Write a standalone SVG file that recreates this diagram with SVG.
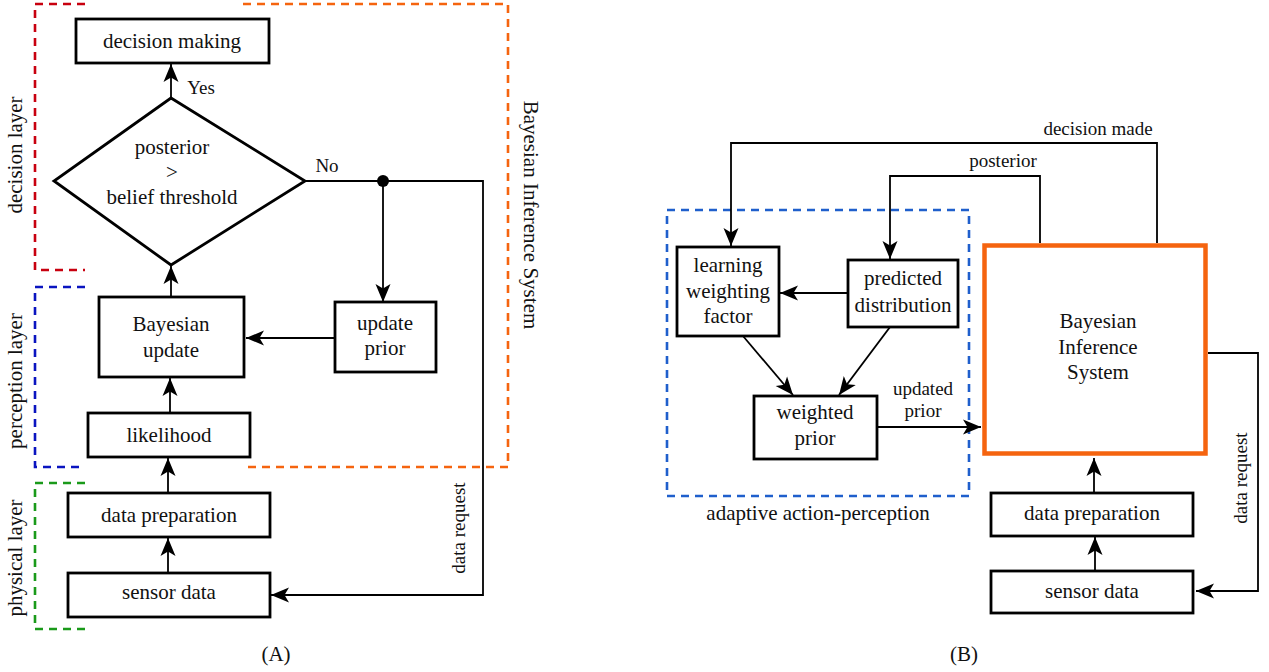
<svg xmlns="http://www.w3.org/2000/svg" width="1269" height="672" viewBox="0 0 1269 672">
<style>
text{font-family:"Liberation Serif","Times New Roman",serif;fill:#111;text-anchor:middle}
.t{font-size:21px}
.s{font-size:19px}
.box{fill:#fff;stroke:#000;stroke-width:2.8}
.lna{fill:none;stroke:#000;stroke-width:1.8;marker-end:url(#ah)}
.dash{fill:none;stroke-width:2.6;stroke-dasharray:8 6}
</style>
<defs>
<marker id="ah" markerUnits="userSpaceOnUse" markerWidth="20" markerHeight="18" viewBox="0 0 20 18" refX="18" refY="9" orient="auto">
<path d="M0,1.5 L18,9 L0,16.5 L4.5,9 Z" fill="#000"/>
</marker>
</defs>
<rect width="1269" height="672" fill="#fff"/>

<!-- Panel A layer brackets -->
<g id="decision-layer">
<path class="dash" stroke="#c8000f" d="M85,4 H35 V270 H85"/>
<text class="t" transform="translate(22,155) rotate(-90)">decision layer</text>
</g>
<g id="perception-layer">
<path class="dash" stroke="#0a14c0" d="M85,287 H35 V467 H85"/>
<text class="t" transform="translate(22,381) rotate(-90)">perception layer</text>
</g>
<g id="physical-layer">
<path class="dash" stroke="#1a9a1a" d="M85,483 H35 V629 H85"/>
<text class="t" transform="translate(22,558) rotate(-90)">physical layer</text>
</g>
<g id="bayesian-inference-system-group">
<path class="dash" stroke="#f5640f" d="M243,4 H508 V467 H243"/>
<text class="t" transform="translate(524,215) rotate(90)">Bayesian Inference System</text>
</g>

<!-- Panel A connectors -->
<g id="connectors-a">
<line class="lna" x1="171" y1="98" x2="171" y2="64"/>
<line class="lna" x1="171" y1="297" x2="171" y2="266"/>
<line class="lna" x1="170" y1="413" x2="170" y2="378"/>
<line class="lna" x1="168" y1="493" x2="168" y2="458"/>
<line class="lna" x1="168" y1="573" x2="168" y2="538"/>
<polyline class="lna" points="305,181 483,181 483,595 271,595"/>
<line class="lna" x1="383" y1="181" x2="383" y2="302"/>
<line class="lna" x1="335" y1="338" x2="246" y2="338"/>
<circle cx="383" cy="181" r="6" fill="#000"/>
<text class="s" x="201" y="94">Yes</text>
<text class="s" x="327" y="172">No</text>
<text class="s" transform="translate(465,528) rotate(-90)">data request</text>
</g>

<!-- Panel A nodes -->
<g id="a-decision-making">
<rect class="box" x="76" y="19" width="193" height="44"/>
<text class="t" x="172" y="48">decision making</text>
</g>
<g id="a-threshold">
<polygon class="box" points="171,98 305,181 171,265 54,181"/>
<text class="t" x="172" y="154">posterior</text>
<text class="t" x="172" y="179">&gt;</text>
<text class="t" x="172" y="204">belief threshold</text>
</g>
<g id="a-bayesian-update">
<rect class="box" x="99" y="297" width="145" height="80"/>
<text class="t" x="171" y="331">Bayesian</text>
<text class="t" x="171" y="357">update</text>
</g>
<g id="a-update-prior">
<rect class="box" x="335" y="302" width="101" height="70"/>
<text class="t" x="385" y="330">update</text>
<text class="t" x="385" y="355">prior</text>
</g>
<g id="a-likelihood">
<rect class="box" x="88" y="413" width="162" height="44"/>
<text class="t" x="169" y="442">likelihood</text>
</g>
<g id="a-data-preparation">
<rect class="box" x="68" y="493" width="202" height="44"/>
<text class="t" x="169" y="522">data preparation</text>
</g>
<g id="a-sensor-data">
<rect class="box" x="68" y="573" width="202" height="44"/>
<text class="t" x="169" y="599">sensor data</text>
</g>
<text class="t" x="276" y="661">(A)</text>

<!-- Panel B -->
<g id="adaptive-action-perception">
<rect class="dash" stroke="#1f5fcc" x="667" y="210" width="302" height="286"/>
<text class="t" x="818" y="520">adaptive action-perception</text>
</g>

<g id="connectors-b">
<line class="lna" x1="848" y1="293" x2="780" y2="293"/>
<line class="lna" x1="743" y1="336" x2="793" y2="395"/>
<line class="lna" x1="890" y1="327" x2="839" y2="395"/>
<line class="lna" x1="877" y1="427" x2="981" y2="427"/>
<polyline class="lna" points="1157,243 1157,143 731,143 731,246"/>
<polyline class="lna" points="1040,243 1040,176 890,176 890,259"/>
<polyline class="lna" points="1208,353 1258,353 1258,591 1196,591"/>
<line class="lna" x1="1095" y1="571" x2="1095" y2="537"/>
<line class="lna" x1="1094" y1="493" x2="1094" y2="458"/>
<text class="s" x="1098" y="135">decision made</text>
<text class="s" x="1003" y="167">posterior</text>
<text class="s" x="923" y="395">updated</text>
<text class="s" x="923" y="417">prior</text>
<text class="s" transform="translate(1247,478) rotate(-90)">data request</text>
</g>

<g id="b-learning-weighting-factor">
<rect class="box" x="677" y="247" width="102" height="89"/>
<text class="t" x="728" y="272">learning</text>
<text class="t" x="728" y="298">weighting</text>
<text class="t" x="728" y="323">factor</text>
</g>
<g id="b-predicted-distribution">
<rect class="box" x="848" y="260" width="110" height="67"/>
<text class="t" x="903" y="285">predicted</text>
<text class="t" x="903" y="312">distribution</text>
</g>
<g id="b-weighted-prior">
<rect class="box" x="754" y="396" width="123" height="63"/>
<text class="t" x="815" y="419">weighted</text>
<text class="t" x="815" y="445">prior</text>
</g>
<g id="b-bayesian-inference-system">
<rect x="984.5" y="245.5" width="221" height="208" fill="#fff" stroke="#f5640f" stroke-width="4.5"/>
<text class="t" x="1098" y="328">Bayesian</text>
<text class="t" x="1098" y="354">Inference</text>
<text class="t" x="1098" y="379">System</text>
</g>
<g id="b-data-preparation">
<rect class="box" x="991" y="493" width="202" height="43"/>
<text class="t" x="1092" y="520">data preparation</text>
</g>
<g id="b-sensor-data">
<rect class="box" x="991" y="571" width="202" height="42"/>
<text class="t" x="1092" y="598">sensor data</text>
</g>
<text class="t" x="964" y="661">(B)</text>
</svg>
